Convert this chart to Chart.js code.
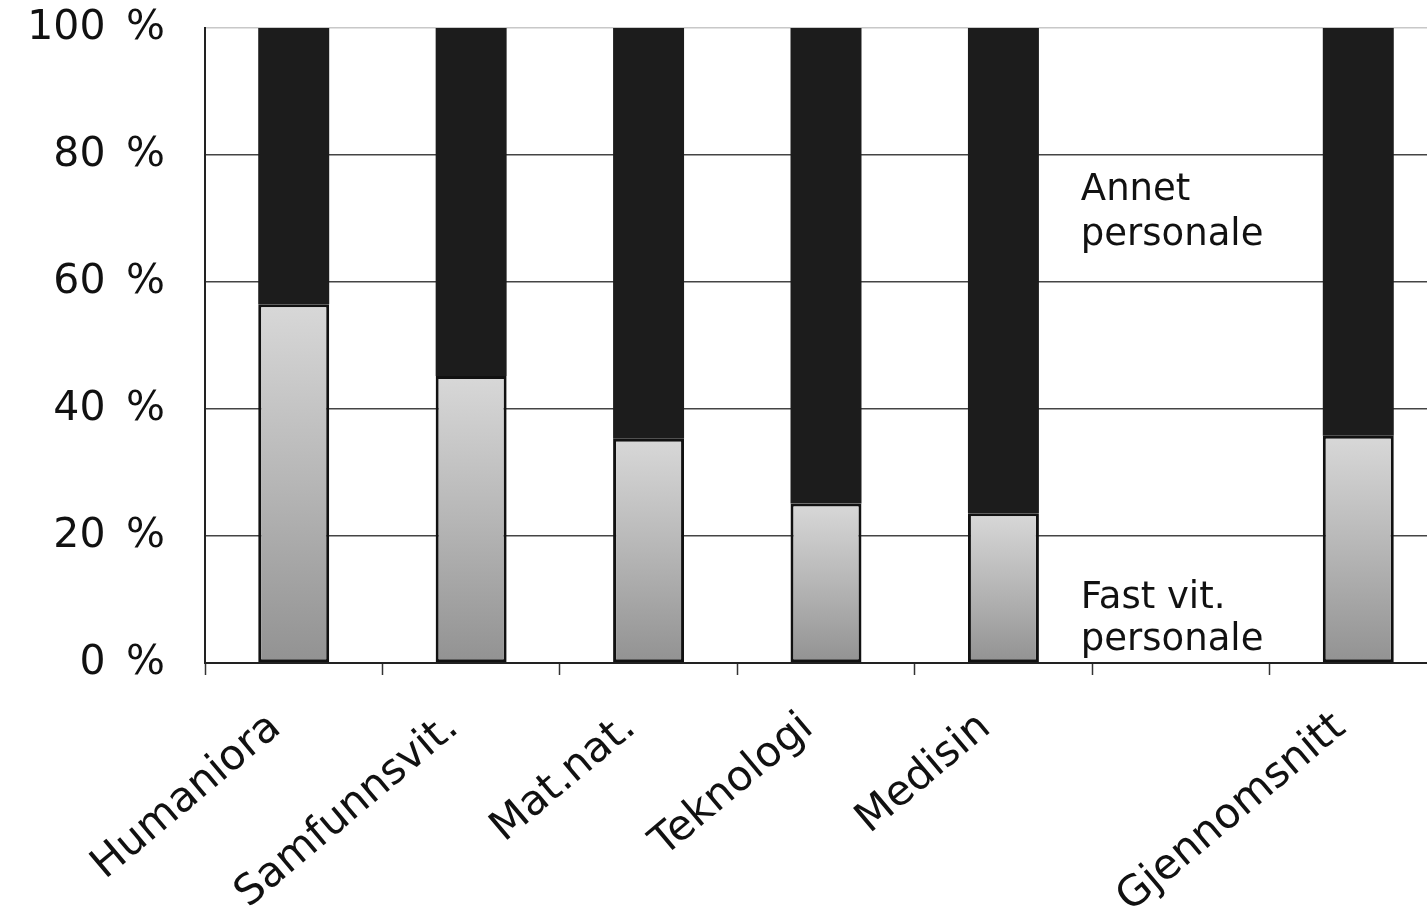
<!DOCTYPE html>
<html>
<head>
<meta charset="utf-8">
<script src="https://cdn.jsdelivr.net/npm/chart.js@4/dist/chart.umd.min.js"></script>
<style>
  html, body { margin: 0; padding: 0; background: #fff; overflow: hidden; }
  #wrap { width: 1450px; height: 917px; }
</style>
</head>
<body>
<div id="wrap"><canvas id="myChart"></canvas></div>
<script>
// --- DATA ---
const categories = ["Humaniora", "Samfunnsvit.", "Mat.nat.", "Teknologi", "Medisin", "", "Gjennomsnitt"];
const fastVit = [56.5, 45.2, 35.3, 25.1, 23.6, null, 35.8];
const annet = [43.5, 54.8, 64.7, 74.9, 76.4, null, 64.2];
const yTicks = [0, 20, 40, 60, 80, 100];

const FONT = "'DejaVu Sans', Verdana, sans-serif";

// grey bars: lighter at the top, darker at the bottom
function greyFill(context) {
  const chart = context.chart;
  const y = chart.scales.y;
  if (!y || context.raw == null) return "#b0b0b0";
  const top = y.getPixelForValue(context.raw);
  const bottom = y.getPixelForValue(0);
  if (!isFinite(top) || !isFinite(bottom) || top === bottom) return "#b0b0b0";
  const g = chart.ctx.createLinearGradient(0, top, 0, bottom);
  g.addColorStop(0, "#d8d8d8");
  g.addColorStop(0.5, "#b6b6b6");
  g.addColorStop(1, "#929292");
  return g;
}

// text labels inside the empty category
const notes = {
  id: "notes",
  afterDatasetsDraw(chart) {
    const { ctx, scales } = chart;
    const x = scales.x.getPixelForValue(5) - 100;
    ctx.save();
    ctx.fillStyle = "#111";
    ctx.font = "37px " + FONT;
    ctx.textAlign = "left";
    ctx.textBaseline = "middle";
    ctx.fillText("Annet", x, scales.y.getPixelForValue(74.5));
    ctx.fillText("personale", x, scales.y.getPixelForValue(67.4));
    ctx.fillText("Fast vit.", x, scales.y.getPixelForValue(10.2));
    ctx.fillText("personale", x, scales.y.getPixelForValue(3.6));
    ctx.restore();
  },
};

const ctx = document.getElementById("myChart").getContext("2d");
const chart = new Chart(ctx, {
  type: "bar",
  data: {
    labels: categories,
    datasets: [
      {
        label: "Fast vit. personale",
        data: fastVit,
        backgroundColor: greyFill,
        borderColor: "#111",
        borderWidth: 3,
        borderSkipped: false,
      },
      {
        label: "Annet personale",
        data: annet,
        backgroundColor: "#1c1c1c",
        borderColor: "#1c1c1c",
        borderWidth: 0,
      },
    ],
  },
  options: {
    responsive: true,
    maintainAspectRatio: false,
    animation: false,
    datasets: { bar: { categoryPercentage: 1, barPercentage: 0.4 } },
    layout: { padding: { top: 28, right: 3, left: 0, bottom: 0 } },
    plugins: { legend: { display: false }, tooltip: { enabled: false } },
    scales: {
      x: {
        stacked: true,
        afterFit: (s) => { s.height = 254; },
        grid: {
          offset: true,
          drawOnChartArea: false,
          drawTicks: true,
          tickLength: 12,
          tickColor: "#333",
          tickWidth: 1.5,
        },
        border: { color: "#222", width: 2 },
        ticks: {
          minRotation: 40,
          maxRotation: 40,
          autoSkip: false,
          padding: 28,
          labelOffset: -18,
          color: "#111",
          font: { family: FONT, size: 42 },
        },
      },
      y: {
        stacked: true,
        min: 0,
        max: 100,
        afterFit: (s) => {
          s.width = 205;
          s.paddingTop = 0;
          s.paddingBottom = 0;
        },
        afterBuildTicks: (s) => { s.ticks = yTicks.map((v) => ({ value: v })); },
        grid: {
          drawTicks: false,
          color: (c) => (c.tick && c.tick.value === 100 ? "#c8c8c8" : "#444"),
          lineWidth: 1.5,
        },
        border: { color: "#222", width: 2 },
        ticks: {
          padding: 40,
          color: "#111",
          font: { family: FONT, size: 41 },
          callback: (v) => v + "\u2002%",
        },
      },
    },
  },
  plugins: [notes],
});
// second pass so the gradients use the laid-out scale
chart.update();
</script>
</body>
</html>
